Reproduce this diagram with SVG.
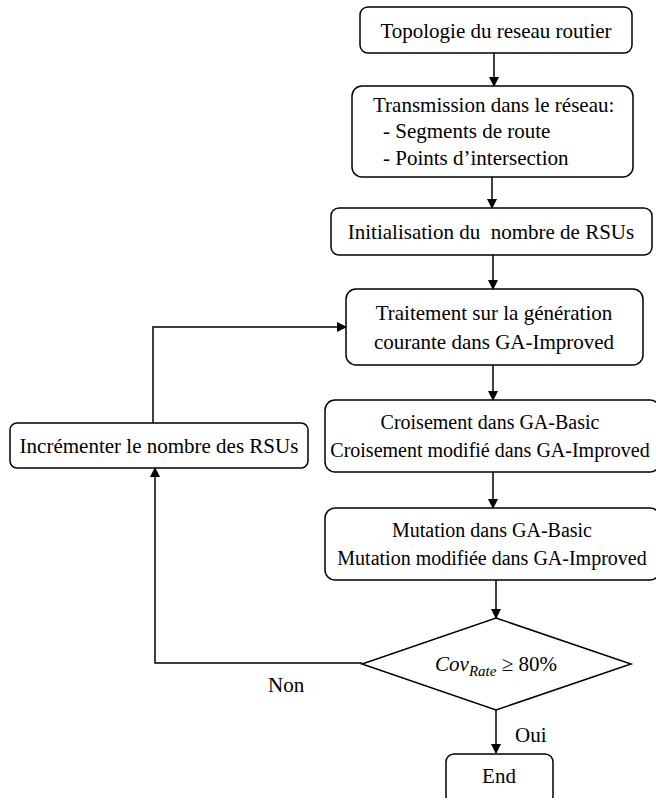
<svg xmlns="http://www.w3.org/2000/svg" width="656" height="798" viewBox="0 0 656 798">
<style>
.box{fill:#fff;stroke:#000;stroke-width:1.5}
.t{font-family:"Liberation Serif","Times New Roman",serif;font-size:21px;fill:#000}
.s{font-size:20px}
.c{text-anchor:middle}
.ln{fill:none;stroke:#000;stroke-width:1.5}
</style>
<defs>
<marker id="ah" markerWidth="10" markerHeight="10" refX="9" refY="5" orient="auto" markerUnits="userSpaceOnUse">
<path d="M0,0 L10,5 L0,10 z" fill="#000"/>
</marker>
</defs>
<rect width="656" height="798" fill="#fff"/>
<g id="connectors">
<line class="ln" x1="494" y1="53" x2="494" y2="86" marker-end="url(#ah)"/>
<line class="ln" x1="492" y1="177" x2="492" y2="208" marker-end="url(#ah)"/>
<line class="ln" x1="493" y1="255" x2="493" y2="289" marker-end="url(#ah)"/>
<line class="ln" x1="493" y1="365" x2="493" y2="400" marker-end="url(#ah)"/>
<line class="ln" x1="493" y1="472" x2="493" y2="508" marker-end="url(#ah)"/>
<line class="ln" x1="496" y1="580" x2="496" y2="618" marker-end="url(#ah)"/>
<line class="ln" x1="496" y1="710" x2="496" y2="753" marker-end="url(#ah)"/>
<polyline class="ln" points="362,663 155,663 155,468" marker-end="url(#ah)"/>
<polyline class="ln" points="153,423 153,327 346,327" marker-end="url(#ah)"/>
<text class="t" x="268" y="692">Non</text>
<text class="t" x="515" y="742">Oui</text>
</g>
<g id="n1">
<rect class="box" x="360" y="7" width="272" height="46" rx="8"/>
<text class="t c" x="496" y="38">Topologie du reseau routier</text>
</g>
<g id="n2">
<rect class="box" x="352" y="86" width="281" height="91" rx="10"/>
<text class="t" x="373" y="112">Transmission dans le réseau:</text>
<text class="t" x="383" y="138">- Segments de route</text>
<text class="t" x="383" y="165">- Points d’intersection</text>
</g>
<g id="n3">
<rect class="box" x="331" y="208" width="321" height="47" rx="8"/>
<text class="t c" x="491" y="239" xml:space="preserve">Initialisation du  nombre de RSUs</text>
</g>
<g id="n4">
<rect class="box" x="346" y="289" width="297" height="76" rx="10"/>
<text class="t c" x="494" y="320">Traitement sur la génération</text>
<text class="t c" x="494" y="349">courante dans GA-Improved</text>
</g>
<g id="n5">
<rect class="box" x="10" y="423" width="298" height="45" rx="7"/>
<text class="t c" x="159" y="453">Incrémenter le nombre des RSUs</text>
</g>
<g id="n6">
<rect class="box" x="325" y="400" width="335" height="72" rx="10"/>
<text class="t s c" x="490" y="429">Croisement dans GA-Basic</text>
<text class="t s c" x="490" y="457">Croisement modifié dans GA-Improved</text>
</g>
<g id="n7">
<rect class="box" x="325" y="508" width="335" height="72" rx="10"/>
<text class="t s c" x="492" y="537">Mutation dans GA-Basic</text>
<text class="t s c" x="492" y="565">Mutation modifiée dans GA-Improved</text>
</g>
<g id="n8">
<polygon class="box" points="496,618 631,664 496,710 362,664"/>
<text class="t c" x="496" y="671" font-size="22"><tspan font-style="italic">Cov</tspan><tspan font-style="italic" font-size="15" dy="5">Rate</tspan><tspan dy="-5"> ≥ 80%</tspan></text>
</g>
<g id="n9">
<rect class="box" x="446" y="754" width="107" height="50" rx="8"/>
<text class="t c" x="499" y="783">End</text>
</g>
</svg>
